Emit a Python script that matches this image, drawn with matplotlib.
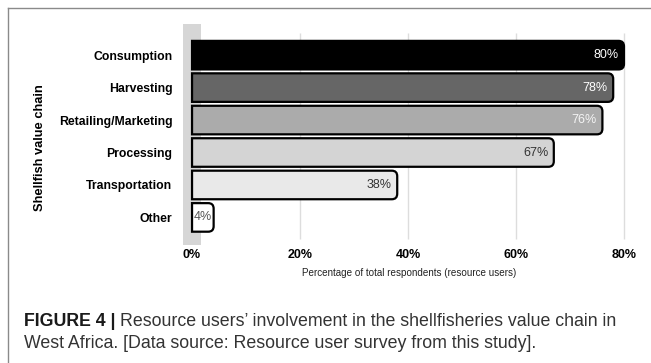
import numpy as np
import matplotlib.pyplot as plt
from matplotlib.path import Path as MPath
from matplotlib.patches import PathPatch

plt.rcParams['font.family'] = ['Liberation Sans', 'DejaVu Sans']

categories = ["Consumption", "Harvesting", "Retailing/Marketing",
              "Processing", "Transportation", "Other"]
values = [80, 78, 76, 67, 38, 4]
colors = ["#000000", "#666666", "#ababab", "#d4d4d4", "#e9e9e9", "#ffffff"]
label_colors = ["white", "white", "#f4f4f4", "#333333", "#333333", "#555555"]
xticks = [0, 20, 40, 60, 80]

W, H = 651, 363
fig = plt.figure(figsize=(W / 100, H / 100), dpi=100)

# axes placed in pixels: x=-1.6 at 183.4px, x=82 at 634.8px; top 24px, bottom 245px
ax = fig.add_axes([183.4 / W, 1 - 245 / H, (634.8 - 183.4) / W, (245 - 24) / H])
ax.set_xlim(-1.6, 82)
ax.set_ylim(5.85, -0.96)
for s in ax.spines.values():
    s.set_visible(False)

ax.axvspan(-1.6, 1.6, color="#d6d6d6", zorder=0, lw=0)
ax.vlines(xticks[1:], -0.68, 5.67, color="#dddddd", lw=1, zorder=0.5)


def bar_path(w, yc, h, rx, ry):
    y0, y1 = yc - h / 2, yc + h / 2
    verts = [(0, y0), (w - rx, y0), (w, y0), (w, y0 + ry), (w, y1 - ry),
             (w, y1), (w - rx, y1), (0, y1), (0, y0)]
    codes = [MPath.MOVETO, MPath.LINETO, MPath.CURVE3, MPath.CURVE3,
             MPath.LINETO, MPath.CURVE3, MPath.CURVE3, MPath.LINETO,
             MPath.CLOSEPOLY]
    return MPath(verts, codes)


for i, (v, c, lc) in enumerate(zip(values, colors, label_colors)):
    p = PathPatch(bar_path(v, i, 0.88, 1.0, 0.17), facecolor=c,
                  edgecolor="black", lw=1.6, zorder=2)
    ax.add_patch(p)
    ax.annotate(f"{v}%", xy=(v, i), xytext=(-4 if v > 10 else -1.5, 0),
                textcoords="offset points", ha="right", va="center",
                fontsize=9, color=lc, zorder=3)

ax.set_yticks(range(len(categories)))
ax.set_yticklabels(categories, fontsize=8.8, fontweight="bold")
ax.set_xticks(xticks)
ax.set_xticklabels([f"{t}%" for t in xticks], fontsize=9, fontweight="bold")
ax.tick_params(axis="y", length=0, pad=8)
ax.tick_params(axis="x", length=0, pad=3)
ax.set_xlabel("Percentage of total respondents (resource users)", fontsize=7.1,
              labelpad=5, color="#222222")
ax.set_ylabel("Shellfish value chain", fontsize=9.3, fontweight="bold")
ax.yaxis.set_label_coords(-0.305, 0.44)

# panel frame
fig.add_artist(plt.Line2D([7.5 / W, 7.5 / W], [0, 1 - 8 / H], transform=fig.transFigure,
                          color="#8a8a8a", lw=1))
fig.add_artist(plt.Line2D([7.5 / W, 1], [1 - 8 / H, 1 - 8 / H], transform=fig.transFigure,
                          color="#8a8a8a", lw=1))

# caption
cap_size = 12.8
t1 = fig.text(24 / W, 1 - 326 / H, "FIGURE 4 | ", fontsize=cap_size, fontweight="bold",
              color="#1a1a1a", va="baseline")
fig.canvas.draw()
bb = t1.get_window_extent()
fig.text(bb.x1 / W, 1 - 326 / H,
         "Resource users\u2019 involvement in the shellfisheries value chain in",
         fontsize=cap_size, color="#333333", va="baseline")
fig.text(24 / W, 1 - 348 / H,
         "West Africa. [Data source: Resource user survey from this study].",
         fontsize=cap_size, color="#333333", va="baseline")

fig.savefig("out.png", dpi=100)
